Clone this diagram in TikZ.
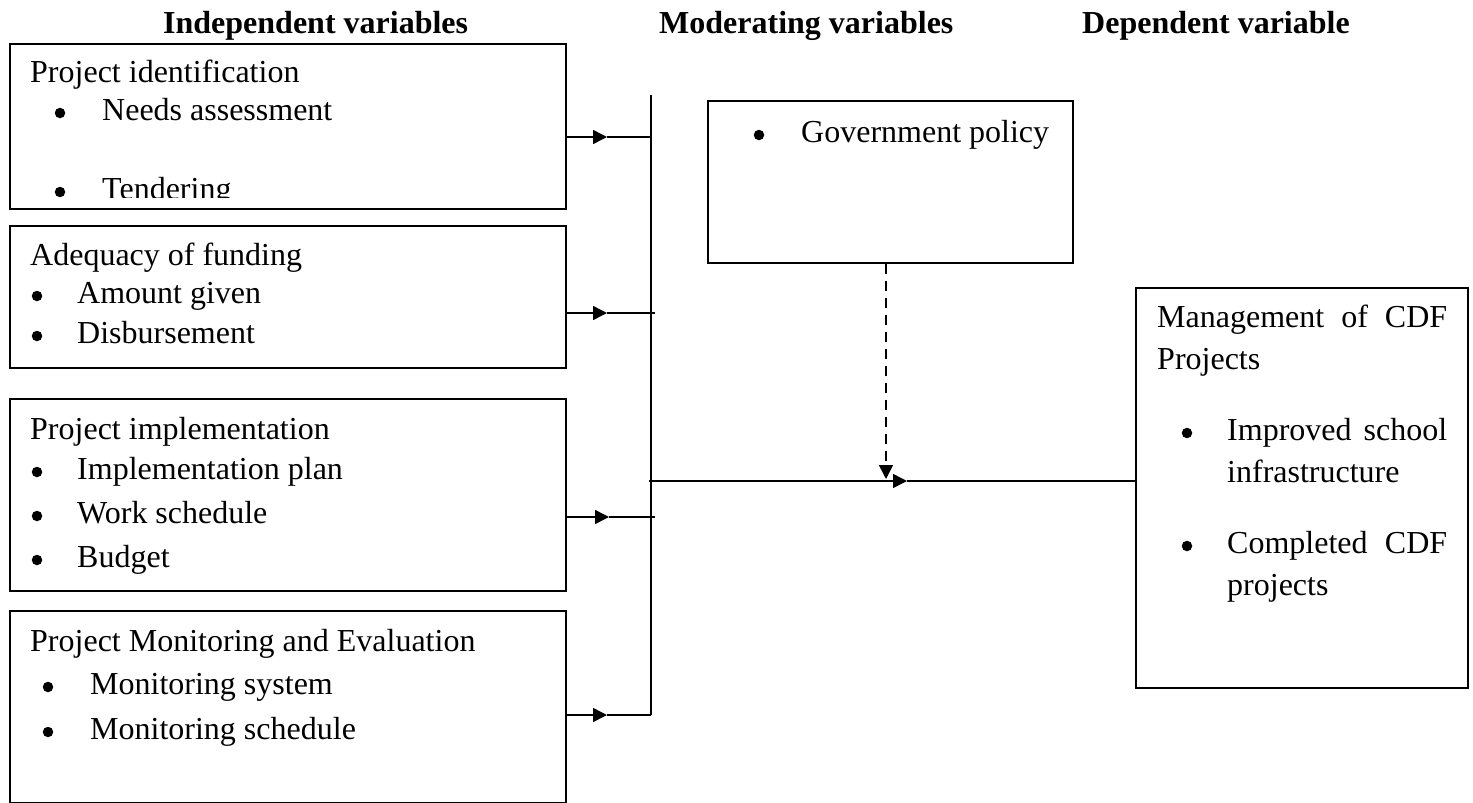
\documentclass[tikz,border=0pt]{standalone}
\usepackage{fontspec}
\setmainfont{Liberation Serif}
\usetikzlibrary{arrows.meta}
\begin{document}
\begin{tikzpicture}[x=1pt,y=-1pt,
  box/.style={draw, line width=1.5pt, inner sep=0pt, anchor=north west},
  txt/.style={anchor=base west, inner sep=0pt, font=\fontsize{32}{42}\selectfont},
  head/.style={anchor=base west, inner sep=0pt, font=\fontsize{32}{42}\selectfont\bfseries},
  bul/.style={circle, fill, inner sep=0pt, minimum size=10.5pt},
  ln/.style={line width=1.5pt},
  arr/.style={line width=1.5pt, -{Triangle[length=14pt,width=14pt]}},
  dsh/.style={line width=1.5pt, dash pattern=on 10pt off 7pt, -{Triangle[length=14pt,width=14pt]}}
]
\useasboundingbox (0,0) rectangle (1473,803);

% headings
\node[head] (h1) at (163,34) {Independent variables};
\node[head] (h2) at (659,34) {Moderating variables};
\node[head] (h3) at (1082,34) {Dependent variable};

% boxes
\node[box, minimum width=556pt, minimum height=165pt] (b1) at (9,43) {};
\node[box, minimum width=556pt, minimum height=142pt] (b2) at (9,225) {};
\node[box, minimum width=556pt, minimum height=192pt] (b3) at (9,398) {};
\node[box, minimum width=556pt, minimum height=192pt] (b4) at (9,610) {};
\node[box, minimum width=365pt, minimum height=162pt] (gov) at (707,100) {};
\node[box, minimum width=332pt, minimum height=400pt] (dep) at (1135,287) {};

% box 1
\node[txt] (t11) at (30,82) {Project identification};
\node[bul] (p11) at (60,113) {};
\node[txt] (t12) at (102,120) {Needs assessment};
\begin{scope}
\clip (0,150) rectangle (600,197);
\node[bul] (p12) at (60,192) {};
\node[txt] (t13) at (102,199) {Tendering};
\end{scope}

% box 2
\node[txt] (t21) at (30,265) {Adequacy of funding};
\node[bul] (p21) at (37,296) {};
\node[txt] (t22) at (77,303) {Amount given};
\node[bul] (p22) at (37,336) {};
\node[txt] (t23) at (77,343) {Disbursement};

% box 3
\node[txt] (t31) at (30,439) {Project implementation};
\node[bul] (p31) at (37,472) {};
\node[txt] (t32) at (77,479) {Implementation plan};
\node[bul] (p32) at (37,516) {};
\node[txt] (t33) at (77,523) {Work schedule};
\node[bul] (p33) at (37,560) {};
\node[txt] (t34) at (77,567) {Budget};

% box 4
\node[txt] (t41) at (30,651) {Project Monitoring and Evaluation};
\node[bul] (p41) at (48,687) {};
\node[txt] (t42) at (90,694) {Monitoring system};
\node[bul] (p42) at (48,732) {};
\node[txt] (t43) at (90,739) {Monitoring schedule};

% government box
\node[bul] (pg) at (759,135) {};
\node[txt] (tg) at (801,142) {Government policy};

% dependent box
\node[txt] (td1) at (1157,327) {\parbox[t]{290pt}{\hyphenpenalty=10000\exhyphenpenalty=10000 Management of CDF Projects}};
\node[bul] (pd1) at (1187,433) {};
\node[txt] (td2) at (1227,440) {\parbox[t]{220pt}{\hyphenpenalty=10000\exhyphenpenalty=10000 Improved school infrastructure}};
\node[bul] (pd2) at (1187,546) {};
\node[txt] (td3) at (1227,553) {\parbox[t]{220pt}{\hyphenpenalty=10000\exhyphenpenalty=10000 Completed CDF projects}};

% connector coordinates
\coordinate (vt) at (651,95);
\coordinate (vb) at (651,715);
\coordinate (k1) at (607,137);
\coordinate (k2) at (607,313);
\coordinate (k3) at (609,517);
\coordinate (k4) at (607,715);
\coordinate (e2) at (655,313);
\coordinate (e3) at (655,517);
\coordinate (ms) at (649,481);
\coordinate (mt) at (907,481);
\coordinate (dt) at (886,479);

% vertical collector
\draw[ln] (vt) -- (vb);

% arrows from independent variables
\draw[arr] (b1.east |- k1) -- (k1);
\draw[ln] (k1) -- (k1 -| vt);
\draw[arr] (b2.east |- k2) -- (k2);
\draw[ln] (k2) -- (e2);
\draw[arr] (b3.east |- k3) -- (k3);
\draw[ln] (k3) -- (e3);
\draw[arr] (b4.east |- k4) -- (k4);
\draw[ln] (k4) -- (vb);

% main line to dependent variable
\draw[arr] (ms) -- (mt);
\draw[ln] (mt) -- (dep.west |- mt);

% moderating dashed arrow
\draw[dsh] (dt |- gov.south) -- (dt);
\end{tikzpicture}
\end{document}
